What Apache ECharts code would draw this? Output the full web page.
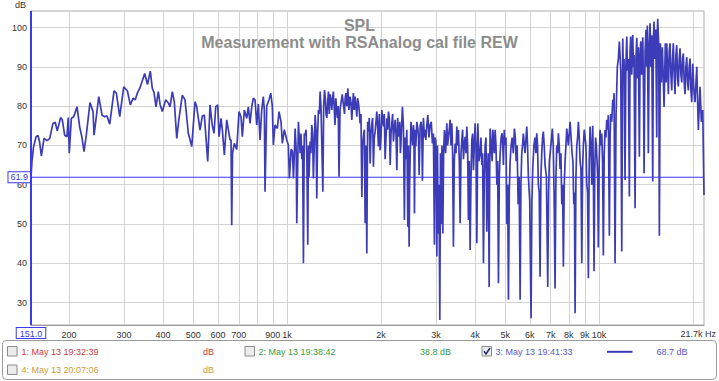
<!DOCTYPE html>
<html><head><meta charset="utf-8">
<script src="https://cdn.jsdelivr.net/npm/echarts@6/dist/echarts.min.js"></script>
<style>html,body{margin:0;padding:0;background:#fff}#c{width:719px;height:381px}</style>
</head><body><div id="c"></div>
<script>
const splLow = [[151,62],[152.1,66],[153.8,69.5],[156.7,72.2],[159.0,72.5],[160.8,71],[163.0,67.3],[166.2,71.8],[170.0,71.2],[173.4,71.8],[177.6,75.6],[180.6,75.9],[183.3,73.7],[188.0,77.1],[190.2,76.5],[193.6,72.6],[196.9,72.2],[198.8,77.1],[200.3,68.0],[203.4,76.9],[207.0,77.3],[212.1,79.8],[216.4,74.6],[220.0,72],[223.3,68.4],[227.1,72.6],[233.4,80.9],[238.7,78.6],[240.5,72.6],[249.0,82.4],[255.1,77.7],[260.2,77.3],[264.7,77.5],[270.0,75.4],[278.7,83.9],[283.5,83.3],[290.7,77.3],[299.4,84.9],[307.5,83.9],[314.4,80.3],[320.6,82],[326.1,81.6],[330.9,83.3],[336.9,84.5],[342.6,86.2],[349.5,88.3],[356.8,85.5],[364.3,88.9],[369.7,84.5],[374.4,83.5],[380.0,79.8],[386.5,83.7],[391.4,80.5],[398.1,78.6],[408.2,81.6],[416.1,80.8],[421.4,79.8],[428.6,83.7],[435.0,81],[442.8,71.8],[450.3,76.9],[461.4,82.8],[470.7,81.6],[482.3,73.1],[494.6,69.7],[506.8,81.1],[513.2,79.8],[525.8,73.9],[534.8,77.5],[542.8,77.7],[556.5,65.9],[566.1,80.3],[575.8,75],[583.1,73.1],[590.4,79.8],[599.2,80.3],[605.0,72.2],[614.0,76.9],[619.9,74],[629.2,67.6],[640.4,76.5],[648.0,74],[656.2,71.4],[661.0,71.4],[664.4,49.7],[668.3,68],[677.3,70.5],[689.4,69],[701.2,78.6],[711.7,77.3],[718.5,72.2],[729.3,79],[742.3,76.9],[751.1,79.8],[760.6,75.6],[770.2,79.8],[779.3,82],[789.2,81.6],[799.1,75.2],[808.6,80.5],[818.9,71.4],[829.2,79],[839.0,82.4],[845.3,79],[849.6,58.2],[860.4,80],[875.1,81.6],[886.2,83.3],[896.6,80],[903.3,70.1],[914.7,75.2],[930.4,74.3],[942.2,78.6],[956.2,76],[965.4,70.5],[979.8,74],[997.3,71.4]];
const splMid = [[1009,70.1],[1017,61.6],[1030,69],[1040,68.5],[1048,61.6],[1055,68],[1061,74.3],[1069,69],[1074,50.2],[1087,76],[1094,72],[1101,68],[1108,73],[1115,66.5],[1121,70],[1128,40],[1135,73],[1142,72.6],[1150,74],[1157,66.5],[1165,44.7],[1170,70],[1176,62],[1185,71],[1192,68],[1200,75.2],[1207,73],[1214,61.6],[1222,70],[1230,77.7],[1238,74],[1245,56.5],[1252,72],[1260,79],[1268,78],[1276,83.7],[1284,80],[1293,69],[1302,58.2],[1310,80],[1318,84.1],[1326,82],[1333,78],[1341,77],[1349,81],[1357,83.7],[1365,78],[1374,83],[1383,81.6],[1391,79],[1399,82],[1407,83.7],[1415,80],[1424,75.2],[1433,82],[1442,79],[1450,77],[1458,80],[1467,62],[1478,79],[1490,81],[1502,83],[1515,80.5],[1528,78],[1535,82],[1543,83.3],[1554,80],[1566,84.5],[1578,79],[1592,82.4],[1602,81],[1612,76.5],[1621,80],[1631,83.3],[1641,79],[1652,82.4],[1662,80],[1673,77.3],[1683,82],[1693,80.8],[1703,79],[1714,75.6],[1725,78],[1736,56.9],[1746,70],[1757,72.5],[1768,74],[1779,50.2],[1790,70],[1801,42.5],[1812,76],[1823,73.5],[1834,77],[1846,65.4],[1857,73],[1869,75.5],[1880,77],[1891,64.6],[1903,72],[1915,73.5],[1927,76],[1939,78.6],[1950,75],[1962,69.7],[1975,78],[1987,68.8],[2000,72],[2012,79],[2024,77],[2036,74.8],[2049,78],[2062,66.5],[2075,72],[2088,76.9],[2100,74],[2113,78.6],[2127,77],[2140,65],[2153,73],[2166,75.6],[2179,78],[2192,71],[2206,74],[2220,76.5],[2234,73],[2248,63.7],[2261,77],[2274,72.2],[2297,76],[2308,68],[2320,71.4],[2342,79.8],[2360,74.8],[2377,51],[2390,72],[2402,66.5],[2420,74],[2438,49.3],[2449,70],[2461,44.2],[2470,60],[2479,66.5],[2495,76],[2511,73.1],[2526,70],[2541,75.2],[2550,73],[2560,52.7],[2573,74],[2586,69.7],[2605,76],[2625,74.3],[2638,72],[2650,62.5],[2670,75],[2689,76],[2702,74],[2715,61],[2735,77],[2755,72],[2770,74],[2784,71.4],[2804,75],[2825,77.7],[2850,72],[2874,75.2],[2898,76],[2923,70.5],[2945,73],[2967,44.7],[2982,72],[2997,71],[3008,66],[3020,41.7],[3035,70],[3049,47.5],[3068,60],[3087,25.6],[3102,68],[3117,50],[3136,70],[3156,47.6],[3175,68],[3194,73.9],[3222,68],[3251,75.6],[3270,70],[3290,72.2],[3310,74],[3331,76.5],[3352,70],[3373,75.6],[3393,68],[3413,44.2],[3435,66],[3457,70.5],[3478,68],[3500,74.8],[3521,70],[3542,73.9],[3565,66],[3587,50.2],[3610,68],[3632,71.4],[3653,74],[3675,66.5],[3698,70],[3721,72.2],[3745,68],[3768,74.8],[3790,70],[3813,51],[3837,66],[3861,43.4],[3886,62],[3910,71.4],[3934,73],[3957,63.7],[3982,70],[4007,75.6],[4032,70],[4057,45.1],[4087,75.6],[4122,66],[4157,68],[4183,72],[4210,65],[4235,68],[4260,40],[4287,62],[4314,70],[4341,72],[4368,48],[4389,60],[4410,68],[4426,58],[4443,34],[4460,62],[4476,74.3],[4509,70],[4542,66],[4564,74],[4586,72],[4615,68],[4644,74],[4673,70],[4703,60],[4731,66],[4759,34.9],[4789,62],[4819,68],[4854,72],[4890,73.1],[4913,70],[4937,65],[4968,74],[5000,70],[5031,72],[5063,50],[5093,60],[5123,30.7],[5155,58],[5188,66],[5226,70],[5265,72],[5310,68],[5355,74.3],[5389,72],[5423,66],[5463,70],[5503,55],[5544,62],[5585,30.7],[5618,60],[5652,68],[5685,70],[5719,73],[5790,68],[5865,74.8],[5900,70],[5935,62],[5994,56],[6054,26],[6092,56],[6130,64],[6182,70],[6235,72],[6274,68],[6314,73.1],[6351,70],[6389,60],[6430,58],[6470,36.6],[6511,62],[6552,68],[6590,72],[6629,73.5],[6671,70],[6713,65],[6780,62],[6848,34],[6890,58],[6931,66],[7008,70],[7085,74.3],[7130,70],[7175,58],[7228,33.6],[7274,62],[7320,70],[7363,68],[7407,73.1],[7453,70],[7500,64],[7547,68],[7595,55],[7640,60],[7685,39.1],[7734,60],[7783,66],[7832,70],[7881,74.3],[7928,72],[7975,70],[8025,73],[8075,76],[8135,72],[8195,68],[8246,66],[8298,55],[8338,58],[8379,27.3],[8432,62],[8485,70],[8535,72],[8586,76],[8640,72],[8694,66],[8749,64],[8804,40],[8856,64],[8908,70],[8964,74],[9021,72],[9078,70],[9135,60],[9189,58],[9243,36.2],[9301,66],[9360,74.8],[9418,70],[9476,60],[9511,68],[9546,75],[9592,62],[9638,38],[9692,64],[9746,72],[9800,70],[9854,66],[9901,62],[9949,44]];
const splHigh = [[10012,66],[10075,74],[10138,70],[10202,73],[10262,66],[10323,42],[10388,68],[10453,73.9],[10519,72],[10585,76.5],[10648,74],[10711,77.7],[10791,47],[10848,72],[10904,78],[10984,76],[11065,81.6],[11118,80],[11172,83.3],[11254,40],[11338,78],[11447,90],[11532,92],[11618,96.4],[11740,89],[11825,43],[11912,97.2],[11970,88],[12028,92],[12117,61.2],[12190,90],[12270,97.7],[12340,89],[12416,92],[12509,57],[12570,94],[12639,97.7],[12730,88],[12826,98.1],[12890,90],[12950,93],[13046,54],[13130,92],[13211,97.4],[13290,87],[13368,95],[13468,67.1],[13538,93],[13608,96.5],[13700,88],[13808,97.5],[13875,86],[13941,62.9],[14045,94],[14149,99.4],[14215,90],[14285,100.5],[14391,68],[14480,96],[14573,101.1],[14660,90],[14754,98],[14863,60.8],[14935,97],[15007,101.5],[15100,92],[15196,99.5],[15309,72],[15365,98],[15422,102.2],[15537,95],[15607,47],[15722,96],[15840,86],[15956,95],[16055,88],[16158,79.8],[16313,96],[16400,86],[16484,96],[16580,90],[16680,83],[16785,94],[16890,96],[16995,88],[17101,84],[17200,92],[17304,96],[17410,88],[17523,83],[17635,93],[17745,95.5],[17850,87],[17956,85],[18070,92],[18182,94.7],[18300,88],[18412,86],[18520,92],[18630,93.4],[18750,86],[18866,83],[18985,90],[19105,92.5],[19220,86],[19332,84],[19455,90],[19576,92.1],[19700,84],[19823,81],[19968,90.8],[20140,84],[20311,81],[20568,90],[20812,73.9],[21076,84.9],[21278,76],[21499,79],[21626,65],[21700,57.4]];

const xGridHz = [200,300,400,500,600,700,800,900,1000,2000,3000,4000,5000,6000,7000,8000,9000,10000,20000];
const xLabelHz = [200,300,400,500,600,700,900,1000,2000,3000,4000,5000,6000,7000,8000,9000,10000];
const yTicksDb = [30,40,50,60,70,80,90,100];
const xMinHz = 151, xMaxHz = 21700;
const yMinDb = 24.3, yMaxDb = 104.2;
const cursorHz = 151.0;
const cursorDb = 61.9;
const titleLines = ['SPL', 'Measurement with RSAnalog cal file REW'];
const xUnitLabel = '21.7k Hz';
const yUnitLabel = 'dB';
const legendNames = ['1: May 13 19:32:39', '2: May 13 19:38:42', '3: May 13 19:41:33', '4: May 13 20:07:06'];
const legendReadouts = ['dB', '38.8 dB', '68.7 dB', 'dB'];
const legendChecked = [false, false, true, false];

// ---- styles / layout ----
const FONT = '"Liberation Sans", Arial, sans-serif';
const legendColors = ['#cc3b3b', '#3d9a3d', '#5a5ac0', '#c99a3a'];
const curveColor = '#3c3cb8';
const cursorColor = '#3a3af0';
const legendSlots = [
  {bx: 7.5, by: 346.5, tx: 21.5, ty: 351.8, rx: 203, line: null},
  {bx: 245, by: 346.5, tx: 258.5, ty: 351.8, rx: 420, line: null},
  {bx: 482, by: 346.5, tx: 495.5, ty: 351.8, rx: 656.5, line: [607, 632.5]},
  {bx: 7.5, by: 365, tx: 21.5, ty: 370.2, rx: 203, line: null}
];

const graphics = [{
  type: 'rect', shape: {x: 2.5, y: 340.5, width: 714, height: 39, r: 4},
  style: {fill: '#fff', stroke: '#9a9a9a', lineWidth: 1}, z: 1
}];
legendSlots.forEach((s, i) => {
  graphics.push({type: 'rect', shape: {x: s.bx, y: s.by, width: 9.5, height: 9.5},
    style: {fill: '#ececec', stroke: '#8c8c8c', lineWidth: 1}, z: 2});
  if (legendChecked[i]) {
    graphics.push({type: 'polyline', shape: {points: [[s.bx + 2, s.by + 4.8], [s.bx + 4, s.by + 7.5], [s.bx + 8, s.by + 1.5]]},
      style: {stroke: '#26267a', lineWidth: 1.5, fill: null}, z: 3});
  }
  graphics.push({type: 'text', x: s.tx, y: s.ty, style: {text: legendNames[i], fill: legendColors[i],
    fontSize: 9, fontFamily: FONT, verticalAlign: 'middle', align: 'left'}, z: 2});
  graphics.push({type: 'text', x: s.rx, y: s.ty, style: {text: legendReadouts[i], fill: legendColors[i],
    fontSize: 9, fontFamily: FONT, verticalAlign: 'middle', align: 'left'}, z: 2});
  if (s.line) {
    graphics.push({type: 'line', shape: {x1: s.line[0], y1: s.ty, x2: s.line[1], y2: s.ty},
      style: {stroke: curveColor, lineWidth: 2}, z: 2});
  }
});

const labelBox = {color: cursorColor, fontSize: 9, fontFamily: FONT, backgroundColor: '#fff',
  borderColor: cursorColor, borderWidth: 1};

const chart = echarts.init(document.getElementById('c'), null, {renderer: 'svg'});
chart.setOption({
  animation: false,
  backgroundColor: '#fff',
  textStyle: {fontFamily: FONT},
  title: {
    text: titleLines.join('\n'), left: 'center', top: 12,
    textStyle: {fontSize: 16, fontWeight: 'bold', color: '#8c8c8c', lineHeight: 17, fontFamily: FONT}
  },
  grid: {left: 31, right: 15, top: 11, bottom: 56, show: true, borderColor: '#ababab', borderWidth: 1},
  xAxis: {
    type: 'log', logBase: 10, min: xMinHz, max: xMaxHz,
    name: xUnitLabel, nameLocation: 'end', nameGap: 12,
    nameTextStyle: {align: 'right', verticalAlign: 'top', padding: [4, 0, 0, 0], fontSize: 9, color: '#333', fontFamily: FONT},
    axisLine: {show: true, lineStyle: {color: '#9c9c9c', width: 1}},
    axisTick: {show: false, customValues: xGridHz},
    axisLabel: {customValues: xLabelHz, fontSize: 9, color: '#333', margin: 5, fontFamily: FONT,
      formatter: v => v >= 1000 ? (v / 1000) + 'k' : String(v)},
    splitLine: {show: true, lineStyle: {color: '#d3d3d3', width: 1}},
    minorTick: {show: false}, minorSplitLine: {show: false}
  },
  yAxis: {
    type: 'value', min: yMinDb, max: yMaxDb,
    name: yUnitLabel, nameLocation: 'end', nameGap: 2,
    nameTextStyle: {align: 'right', padding: [0, 5, 0, 0], fontSize: 9, color: '#333', fontFamily: FONT},
    axisLine: {show: true, lineStyle: {color: '#9c9c9c', width: 1}},
    axisTick: {show: false, customValues: yTicksDb},
    axisLabel: {customValues: yTicksDb, fontSize: 9, color: '#333', margin: 4, fontFamily: FONT},
    splitLine: {show: true, lineStyle: {color: '#d3d3d3', width: 1}}
  },
  series: [{
    type: 'line', name: legendNames[2],
    data: splLow.concat(splMid, splHigh),
    showSymbol: false, symbol: 'none', z: 3,
    lineStyle: {color: curveColor, width: 1.7}
  }, {
    // horizontal level cursor
    type: 'line', data: [[xMinHz, cursorDb], [xMaxHz, cursorDb]],
    showSymbol: false, symbol: 'none', z: 4, silent: true,
    lineStyle: {color: cursorColor, width: 1}, itemStyle: {color: cursorColor}
  }, {
    // vertical frequency cursor
    type: 'line', data: [[cursorHz, yMinDb], [cursorHz, yMaxDb]],
    showSymbol: false, symbol: 'none', z: 4, silent: true, clip: false,
    lineStyle: {color: cursorColor, width: 2}, itemStyle: {color: cursorColor}
  }, {
    type: 'line', data: [], clip: false, z: 5,
    markLine: {
      silent: true, symbol: 'none', animation: false,
      lineStyle: {color: 'rgba(0,0,0,0)', width: 0},
      data: [
        {xAxis: cursorHz, label: Object.assign({show: true, position: 'start', distance: 3,
          formatter: cursorHz.toFixed(1), padding: [1, 3, 0, 3]}, labelBox)},
        {yAxis: cursorDb, label: Object.assign({show: true, position: 'start', distance: 1,
          formatter: cursorDb.toFixed(1), padding: [1, 2, 0, 2]}, labelBox)}
      ]
    }
  }],
  graphic: graphics
});
</script>
</body></html>
